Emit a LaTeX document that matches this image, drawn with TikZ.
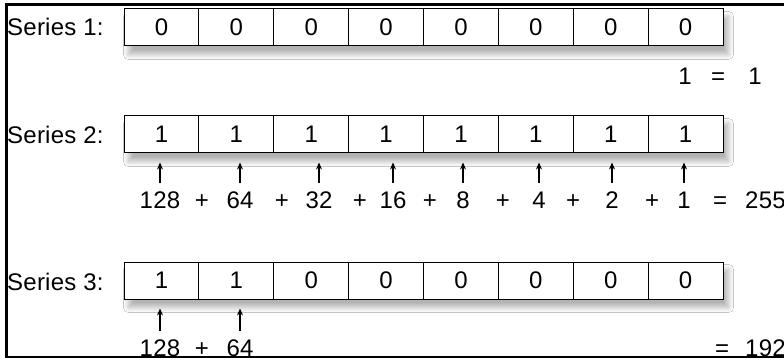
\documentclass[tikz,border=0pt]{standalone}
\usepackage{fontspec}
\setmainfont{Liberation Sans}[LetterSpace=1]
\usetikzlibrary{arrows.meta, math, shadows.blur, backgrounds}

\begin{document}
\begin{tikzpicture}[x=1pt, y=-1pt, font=\fontsize{24}{26}\selectfont,
  cell/.style={draw, fill=white, line width=1, minimum width=74.875pt, minimum height=37pt, inner sep=0},
  rowshadow/.style={fill=white, blur shadow={shadow xshift=5pt, shadow yshift=-8pt, shadow opacity=30, shadow blur radius=5pt, shadow blur steps=10}},
  term/.style={inner sep=0, anchor=base},
  bitarrow/.style={-{Stealth[length=7pt, width=6pt]}, line width=1.2}]
\tikzmath{
\w=74.875;
\x0=124;
}
\useasboundingbox (0,0) rectangle (784,358);
\clip (0,0) rectangle (784,358);

% rows of bits
\foreach \i in {1,...,8}{
  \node[cell] (c1\i) at ({\x0+\w*(\i-0.5)},27.5) {0};
  \node[cell] (c2\i) at ({\x0+\w*(\i-0.5)},134.5) {1};
  \pgfmathtruncatemacro\v{\i<3}
  \node[cell] (c3\i) at ({\x0+\w*(\i-0.5)},280.5) {\v};
}
\begin{pgfonlayer}{background}
\fill[white] (0,0) rectangle (784,358);
\foreach \r in {1,2,3}
  \path[rowshadow] (c\r1.north west) rectangle (c\r8.south east);
\end{pgfonlayer}
\node[anchor=base west, inner sep=0] (s1) at (7,36) {Series 1:};
\node[anchor=base west, inner sep=0] (s2) at (7,144) {Series 2:};
\node[anchor=base west, inner sep=0] (s3) at (7,290) {Series 3:};

% series 1 sum
\node[term] (a1) at (685,85) {1};
\node[term] (e1) at (718,85) {=};
\node[term] (r1) at (755,85) {1};

% series 2 sum
\foreach \i/\xx/\val in {1/160/128,2/240/64,3/319/32,4/393/16,5/463/8,6/539/4,7/612/2,8/684/1}{
  \node[term] (t2\i) at (\xx,208) {\val};
  \draw[bitarrow, shorten <=8.5pt, shorten >=9pt] (t2\i.north) -- (t2\i.north |- c2\i.south);
}
\foreach \xx in {202,282,360,430,503,573,652}
  \node[term] at (\xx,208) {+};
\node[term] (e2) at (720,208) {=};
\node[term, anchor=base west] (r2) at (745,208) {255};

% series 3 sum
\node[term] (t31) at (160,356) {128};
\node[term] (t32) at (240,356) {64};
\node[term] (p3) at (202,356) {+};
\foreach \i in {1,2}
  \draw[bitarrow, shorten <=8.5pt, shorten >=9pt] (t3\i.north) -- (t3\i.north |- c3\i.south);
\node[term] (e3) at (722,356) {=};
\node[term, anchor=base west] (r3) at (745,356) {192};

% frame
\draw[line width=3] (6.5,358) -- (6.5,5) -- (784,5);
\draw[line width=2] (6.5,356.5) -- (784,356.5);
\end{tikzpicture}
\end{document}
